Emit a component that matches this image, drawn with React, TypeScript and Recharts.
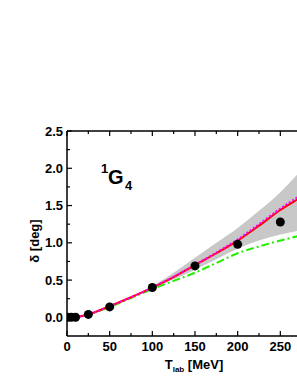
import React from 'react';
import { ComposedChart, Line, Area, Scatter, XAxis, YAxis } from 'recharts';

const curveT = [0, 10, 25, 50, 75, 100, 125, 150, 175, 200, 225, 250, 275, 300];
const redCurve = [0, 0.003, 0.04, 0.15, 0.27, 0.4, 0.54, 0.7, 0.86, 1.03, 1.23, 1.44, 1.62, 1.82];
const magentaCurve = [0, 0.003, 0.04, 0.15, 0.27, 0.4, 0.545, 0.705, 0.87, 1.045, 1.25, 1.46, 1.65, 1.86];
const greenCurve = [0, 0.003, 0.04, 0.14, 0.26, 0.38, 0.49, 0.6, 0.73, 0.86, 0.95, 1.03, 1.1, 1.15];
const bandLow = [0, 0.003, 0.04, 0.15, 0.27, 0.39, 0.51, 0.64, 0.78, 0.92, 1.03, 1.11, 1.17, 1.22];
const bandHigh = [0, 0.003, 0.04, 0.15, 0.27, 0.42, 0.6, 0.8, 1.0, 1.2, 1.43, 1.68, 1.98, 2.3];

const expT = [1, 5, 10, 25, 50, 100, 150, 200, 250];
const expDelta = [0, 0, 0.002, 0.04, 0.14, 0.4, 0.69, 0.98, 1.28];

const xTicks = [0, 25, 50, 75, 100, 125, 150, 175, 200, 225, 250, 275, 300];
const xMajor = [0, 50, 100, 150, 200, 250];
const yTicks = [0, 0.25, 0.5, 0.75, 1, 1.25, 1.5, 1.75, 2, 2.25, 2.5];
const yMajor = [0, 0.5, 1, 1.5, 2, 2.5];

const curveRows = curveT.map((T, i) => ({
  T,
  red: redCurve[i],
  magenta: magentaCurve[i],
  green: greenCurve[i],
  band: [bandLow[i], bandHigh[i]],
}));
const expRows = expT.map((T, i) => ({ T, delta: expDelta[i] }));

const PLOT_TOP = 131;
const PLOT_BOTTOM = 336;
const PLOT_LEFT = 67;
const FONT = '"Liberation Sans", Arial, sans-serif';

const BottomTick = (props: any) => {
  const { x, payload } = props;
  const major = xMajor.includes(payload.value) || payload.value === 300;
  return (
    <g>
      <line x1={x} x2={x} y1={PLOT_BOTTOM} y2={PLOT_BOTTOM - (major ? 5 : 3)} stroke="#000" strokeWidth={1.2} />
      {xMajor.includes(payload.value) && (
        <text x={x} y={PLOT_BOTTOM + 15} textAnchor="middle" fontFamily={FONT} fontWeight="bold" fontSize={13} fill="#000">
          {payload.value}
        </text>
      )}
    </g>
  );
};

const TopTick = (props: any) => {
  const { x, payload } = props;
  const major = payload.value % 50 === 0;
  return <line x1={x} x2={x} y1={PLOT_TOP} y2={PLOT_TOP + (major ? 5 : 3)} stroke="#000" strokeWidth={1.2} />;
};

const LeftTick = (props: any) => {
  const { y, payload } = props;
  const major = yMajor.includes(payload.value);
  return (
    <g>
      <line x1={PLOT_LEFT} x2={PLOT_LEFT + (major ? 5 : 3)} y1={y} y2={y} stroke="#000" strokeWidth={1.2} />
      {major && (
        <text x={PLOT_LEFT - 4} y={y + 4.6} textAnchor="end" fontFamily={FONT} fontWeight="bold" fontSize={13} fill="#000">
          {payload.value.toFixed(1)}
        </text>
      )}
    </g>
  );
};

const Dot = (props: any) => <circle cx={props.cx} cy={props.cy} r={4.5} fill="#000" />;

export default function App() {
  return (
    <div style={{ position: 'absolute', left: 0, top: 0, width: 297, height: 384, overflow: 'hidden', background: '#fff' }}>
      <ComposedChart width={343} height={384} data={curveRows} margin={{ top: 130, right: 20, bottom: 18, left: 17 }}>
        <XAxis
          xAxisId={0}
          dataKey="T"
          type="number"
          domain={[0, 300]}
          ticks={xTicks}
          interval={0}
          allowDataOverflow
          height={30}
          tickLine={false}
          axisLine={{ stroke: '#000', strokeWidth: 1.5 }}
          tick={<BottomTick />}
        />
        <XAxis
          xAxisId="top"
          orientation="top"
          dataKey="T"
          type="number"
          domain={[0, 300]}
          ticks={xTicks}
          interval={0}
          allowDataOverflow
          height={1}
          tickLine={false}
          axisLine={{ stroke: '#000', strokeWidth: 1.5 }}
          tick={<TopTick />}
        />
        <YAxis
          type="number"
          domain={[-0.25, 2.5]}
          ticks={yTicks}
          interval={0}
          allowDataOverflow
          width={50}
          tickLine={false}
          axisLine={{ stroke: '#000', strokeWidth: 1.5 }}
          tick={<LeftTick />}
        />
        <Area dataKey="band" type="monotone" stroke="none" fill="#c8c8c8" fillOpacity={1} isAnimationActive={false} activeDot={false} />
        <Line dataKey="green" type="monotone" stroke="#22ee00" strokeWidth={2} strokeDasharray="8 3 2 3" dot={false} isAnimationActive={false} />
        <Line dataKey="red" type="monotone" stroke="#ff0000" strokeWidth={2} dot={false} isAnimationActive={false} />
        <Line dataKey="magenta" type="monotone" stroke="#ff00ff" strokeWidth={2} strokeDasharray="2 2" dot={false} isAnimationActive={false} />
        <Scatter data={expRows} dataKey="delta" shape={<Dot />} isAnimationActive={false} />
      </ComposedChart>
      <svg width={297} height={384} style={{ position: 'absolute', left: 0, top: 0, pointerEvents: 'none' }}>
        <g fontFamily={FONT} fontWeight="bold" fill="#000">
          <text x={101} y={173} fontSize={13}>1</text>
          <text x={108} y={184} fontSize={20}>G</text>
          <text x={125} y={190} fontSize={13}>4</text>
          <text transform="translate(39 241) rotate(-90)" textAnchor="middle" fontSize={13}>δ [deg]</text>
          <text x={194} y={369} textAnchor="middle" fontSize={13}>
            T<tspan fontSize={8} dy={3}>lab</tspan>
            <tspan dy={-3}> [MeV]</tspan>
          </text>
        </g>
      </svg>
    </div>
  );
}
